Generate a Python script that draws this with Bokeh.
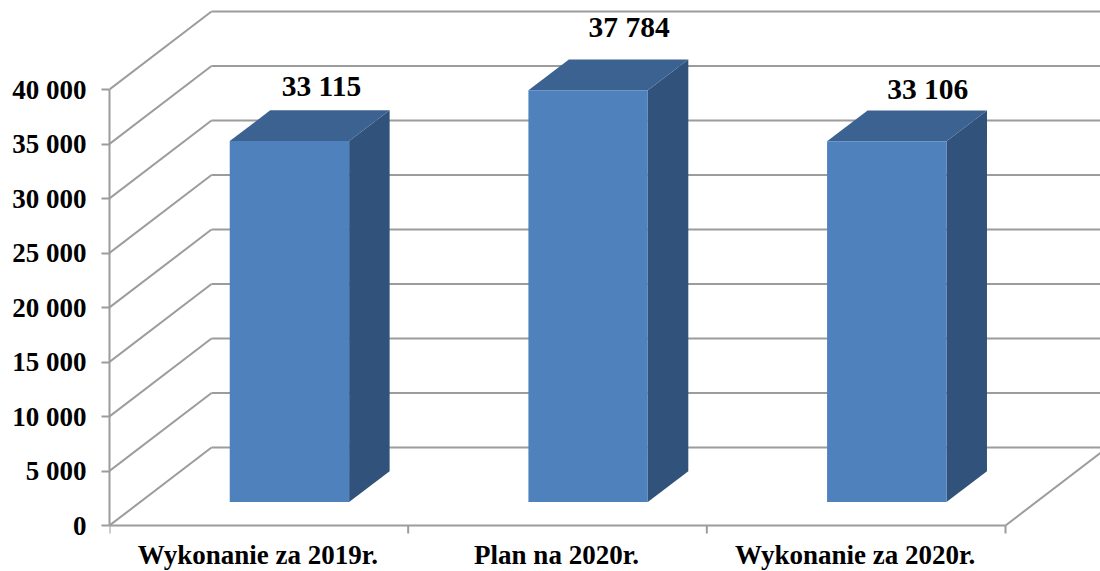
from bokeh.plotting import figure
from bokeh.models import FixedTicker, ColumnDataSource
from bokeh.core.properties import value
from bokeh.embed import file_html
from bokeh.resources import INLINE

categories = ["Wykonanie za 2019r.", "Plan na 2020r.", "Wykonanie za 2020r."]
values = [33115, 37784, 33106]
value_labels = ["33 115", "37 784", "33 106"]
y_ticks = [0, 5000, 10000, 15000, 20000, 25000, 30000, 35000, 40000]
y_tick_labels = ["0", "5 000", "10 000", "15 000", "20 000", "25 000", "30 000", "35 000", "40 000"]

# scale: pixels per category / per value unit
PX_X = 298.67
PX_Y = 436 / 40000
def dx(px): return px / PX_X
def dy(px): return px / PX_Y

WALL_X, WALL_Y = dx(102), dy(78)      # depth of the 3D box
FRONT_X, FRONT_Y = dx(30.6), dy(23.5) # bar front plane offset
DEPTH_X, DEPTH_Y = dx(40.5), dy(30.7) # bar depth
HALF_W = dx(59.7)

FONT = value("Liberation Serif")
GREY = "#9C9C9C"
FRONT, TOP, SIDE = "#4F81BD", "#3C6291", "#31537B"

x_end = dx(991)
y_start = -dy(46)
y_end = 40000 + dy(89)

p = figure(width=1100, height=571, x_range=(0, x_end), y_range=(y_start, y_end),
           x_axis_location=None, output_backend="svg", toolbar_location=None,
           min_border_left=109, min_border_right=0, min_border_top=0, min_border_bottom=0)
p.outline_line_color = None
p.grid.visible = False
p.background_fill_color = "white"
p.border_fill_color = "white"

# walls
n_cat = len(categories)
for t in y_ticks:
    p.line([0, WALL_X], [t, t + WALL_Y], line_color=GREY, line_width=2)
    p.line([WALL_X, n_cat + WALL_X], [t + WALL_Y, t + WALL_Y], line_color=GREY, line_width=2)
p.line([n_cat, n_cat + WALL_X], [0, WALL_Y], line_color=GREY, line_width=2)

# bars
xs_f, ys_f, xs_t, ys_t, xs_s, ys_s = [], [], [], [], [], []
for i, v in enumerate(values):
    l = i + 0.5 + FRONT_X - HALF_W
    r = i + 0.5 + FRONT_X + HALF_W
    b = FRONT_Y
    t = FRONT_Y + v
    xs_f.append([l, r, r, l]); ys_f.append([b, b, t, t])
    xs_t.append([l, r, r + DEPTH_X, l + DEPTH_X]); ys_t.append([t, t, t + DEPTH_Y, t + DEPTH_Y])
    xs_s.append([r, r + DEPTH_X, r + DEPTH_X, r]); ys_s.append([b, b + DEPTH_Y, t + DEPTH_Y, t])
p.patches(xs_s, ys_s, fill_color=SIDE, line_color=None)
p.patches(xs_t, ys_t, fill_color=TOP, line_color=None)
p.patches(xs_f, ys_f, fill_color=FRONT, line_color=None)

# value labels
src = ColumnDataSource(dict(
    x=[i + 0.5 + FRONT_X for i in range(n_cat)],
    y=[v + FRONT_Y + DEPTH_Y for v in values],
    text=value_labels,
    xo=[32, 41, 41],
    yo=[-24, -32, -21],
))
p.text(x="x", y="y", text="text", x_offset="xo", y_offset="yo", source=src,
       text_font=FONT, text_font_style="bold", text_font_size="29.5px",
       text_align="center", text_baseline="alphabetic", text_color="black")

# left axis
ya = p.yaxis[0]
ya.ticker = FixedTicker(ticks=y_ticks)
ya.major_label_overrides = dict(zip(y_ticks, y_tick_labels))
ya.bounds = (0, 40000)
ya.major_tick_out = 8
ya.major_tick_in = 0
ya.minor_tick_line_color = None
ya.major_label_standoff = 15
ya.major_label_text_font = "Liberation Serif"
ya.major_label_text_font_style = "bold"
ya.major_label_text_font_size = "27px"
ya.major_label_text_color = "black"
ya.axis_line_color = GREY
ya.axis_line_width = 2
ya.major_tick_line_color = GREY
ya.major_tick_line_width = 2

# category axis: baseline, ticks between categories and labels
p.line([0, n_cat], [0, 0], line_color=GREY, line_width=2)
edges = list(range(n_cat + 1))
p.segment(x0=edges, y0=[0] * len(edges), x1=edges, y1=[-dy(8)] * len(edges),
          line_color=GREY, line_width=2)
p.text(x=[i + 0.5 for i in range(n_cat)], y=[-dy(39)] * n_cat, text=categories,
       x_offset=-1, y_offset=-10,
       text_font=FONT, text_font_style="bold", text_font_size="27px",
       text_align="center", text_baseline="alphabetic", text_color="black")

open("out.html", "w").write(file_html(p, INLINE))
